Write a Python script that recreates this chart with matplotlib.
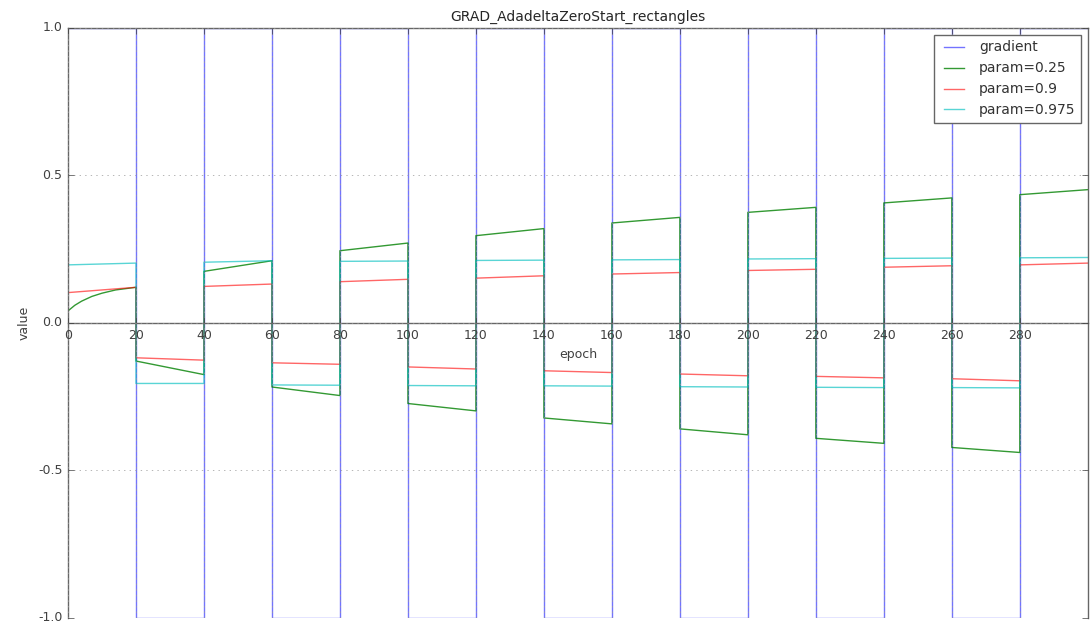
import matplotlib
matplotlib.use('Agg')
import matplotlib.pyplot as plt

title = 'GRAD_AdadeltaZeroStart_rectangles'

# one segment every 20 epochs, gradient flips sign each segment
seg_start = list(range(0, 300, 20))
seg_len = 20
grad_level = [1, -1, 1, -1, 1, -1, 1, -1, 1, -1, 1, -1, 1, -1, 1]

# param values at the start and end of each segment
green_start = [0.041, -0.129, 0.175, -0.217, 0.245, -0.273, 0.296, -0.322,
               0.339, -0.359, 0.375, -0.391, 0.407, -0.422, 0.435]
green_end = [0.121, -0.175, 0.211, -0.246, 0.271, -0.298, 0.320, -0.342,
             0.358, -0.379, 0.392, -0.408, 0.424, -0.439, 0.452]
# first segment of param=0.25 bends, so it gets extra points
green_head_x = [0, 2, 4, 7, 10, 14, 20]
green_head_y = [0.041, 0.060, 0.074, 0.090, 0.101, 0.112, 0.121]

red_start = [0.103, -0.118, 0.124, -0.135, 0.140, -0.149, 0.152, -0.162,
             0.166, -0.173, 0.178, -0.181, 0.189, -0.189, 0.197]
red_end = [0.121, -0.126, 0.132, -0.140, 0.148, -0.156, 0.160, -0.168,
           0.171, -0.179, 0.182, -0.186, 0.194, -0.196, 0.203]

cyan_start = [0.197, -0.205, 0.206, -0.210, 0.209, -0.212, 0.212, -0.213,
              0.214, -0.216, 0.217, -0.218, 0.219, -0.219, 0.221]
cyan_end = [0.203, -0.205, 0.211, -0.211, 0.210, -0.213, 0.213, -0.214,
            0.215, -0.217, 0.218, -0.219, 0.220, -0.220, 0.222]


def segments(starts, ends):
    xs, ys = [], []
    for s, a, b in zip(seg_start, starts, ends):
        xs += [s, s + seg_len]
        ys += [a, b]
    return xs, ys


plt.style.use('classic')
plt.rcParams['figure.facecolor'] = 'white'
plt.rcParams['font.size'] = 9
plt.rcParams['axes.unicode_minus'] = False

fig = plt.figure(figsize=(10.9, 6.32), dpi=100)
ax = fig.add_axes([0.0624, 0.0222, 0.9356, 0.9335])

gx, gy = segments(grad_level, grad_level)
ax.plot(gx, gy, color='b', alpha=0.55, label='gradient')

x, y = segments(green_start, green_end)
x = green_head_x + x[2:]
y = green_head_y + y[2:]
ax.plot(x, y, color='g', alpha=0.8, label='param=0.25')

x, y = segments(red_start, red_end)
ax.plot(x, y, color='r', alpha=0.6, label='param=0.9')

x, y = segments(cyan_start, cyan_end)
ax.plot(x, y, color='c', alpha=0.65, label='param=0.975')

ax.set_xlim(0, 300)
ax.set_ylim(-1, 1)
ax.set_xticks(range(0, 300, 20))
ax.set_yticks([-1.0, -0.5, 0.0, 0.5, 1.0])
ax.spines['bottom'].set_position('zero')
for side in ['left', 'top', 'right', 'bottom']:
    ax.spines[side].set_color('0.4')
ax.tick_params(colors='0.25')
ax.grid(True, color='0.6')
ax.set_xlabel('epoch', fontsize=9, color='0.25')
ax.set_ylabel('value', fontsize=9, color='0.25')
ax.set_title(title, fontsize=10, color='0.15')
leg = ax.legend(loc='upper right', fontsize=10)
leg.get_frame().set_edgecolor('0.4')
for t in leg.get_texts():
    t.set_color('0.2')

fig.savefig('out.png', dpi=100, facecolor='white')
